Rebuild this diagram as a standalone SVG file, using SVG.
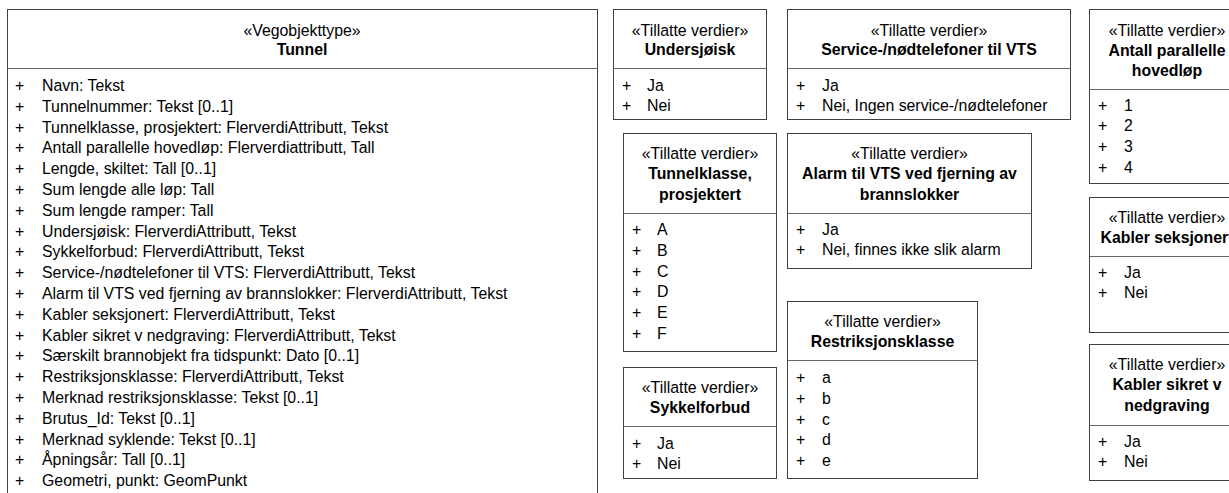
<svg xmlns="http://www.w3.org/2000/svg" width="1229" height="493" viewBox="0 0 1229 493">
<style>
text{font-family:"Liberation Sans",Arial,sans-serif;font-size:15.85px;fill:#000}
.c{text-anchor:middle}
.b{font-weight:bold}
.box{fill:#fff;stroke:#404040;stroke-width:1}
.div{stroke:#6a6a6a;stroke-width:1}
</style>
<rect width="1229" height="493" fill="#fff"/>
<g id="tunnel">
<rect class="box" x="7.5" y="9.5" width="590" height="500"/>
<line class="div" x1="7.5" y1="68.5" x2="597.5" y2="68.5"/>
<text class="c" x="302" y="35.5">«Vegobjekttype»</text>
<text class="c b" x="302" y="55">Tunnel</text>
<text x="15" y="91">+</text><text x="42" y="91">Navn: Tekst</text>
<text x="15" y="111.8">+</text><text x="42" y="111.8">Tunnelnummer: Tekst [0..1]</text>
<text x="15" y="132.6">+</text><text x="42" y="132.6">Tunnelklasse, prosjektert: FlerverdiAttributt, Tekst</text>
<text x="15" y="153.4">+</text><text x="42" y="153.4">Antall parallelle hovedløp: Flerverdiattributt, Tall</text>
<text x="15" y="174.2">+</text><text x="42" y="174.2">Lengde, skiltet: Tall [0..1]</text>
<text x="15" y="195">+</text><text x="42" y="195">Sum lengde alle løp: Tall</text>
<text x="15" y="215.8">+</text><text x="42" y="215.8">Sum lengde ramper: Tall</text>
<text x="15" y="236.6">+</text><text x="42" y="236.6">Undersjøisk: FlerverdiAttributt, Tekst</text>
<text x="15" y="257.4">+</text><text x="42" y="257.4">Sykkelforbud: FlerverdiAttributt, Tekst</text>
<text x="15" y="278.2">+</text><text x="42" y="278.2">Service-/nødtelefoner til VTS: FlerverdiAttributt, Tekst</text>
<text x="15" y="299">+</text><text x="42" y="299">Alarm til VTS ved fjerning av brannslokker: FlerverdiAttributt, Tekst</text>
<text x="15" y="319.8">+</text><text x="42" y="319.8">Kabler seksjonert: FlerverdiAttributt, Tekst</text>
<text x="15" y="340.6">+</text><text x="42" y="340.6">Kabler sikret v nedgraving: FlerverdiAttributt, Tekst</text>
<text x="15" y="361.4">+</text><text x="42" y="361.4">Særskilt brannobjekt fra tidspunkt: Dato [0..1]</text>
<text x="15" y="382.2">+</text><text x="42" y="382.2">Restriksjonsklasse: FlerverdiAttributt, Tekst</text>
<text x="15" y="403">+</text><text x="42" y="403">Merknad restriksjonsklasse: Tekst [0..1]</text>
<text x="15" y="423.8">+</text><text x="42" y="423.8">Brutus_Id: Tekst [0..1]</text>
<text x="15" y="444.6">+</text><text x="42" y="444.6">Merknad syklende: Tekst [0..1]</text>
<text x="15" y="465.4">+</text><text x="42" y="465.4">Åpningsår: Tall [0..1]</text>
<text x="15" y="486.2">+</text><text x="42" y="486.2">Geometri, punkt: GeomPunkt</text>
</g>
<g id="undersjoisk">
<rect class="box" x="613.5" y="9.5" width="153" height="110"/>
<line class="div" x1="613.5" y1="68.5" x2="766.5" y2="68.5"/>
<text class="c" x="690" y="35.5">«Tillatte verdier»</text>
<text class="c b" x="690" y="55">Undersjøisk</text>
<text x="622" y="90.5">+</text><text x="647" y="90.5">Ja</text>
<text x="622" y="111">+</text><text x="647" y="111">Nei</text>
</g>
<g id="service">
<rect class="box" x="787.5" y="9.5" width="283" height="110"/>
<line class="div" x1="787.5" y1="68.5" x2="1070.5" y2="68.5"/>
<text class="c" x="929" y="35.5">«Tillatte verdier»</text>
<text class="c b" x="929" y="55">Service-/nødtelefoner til VTS</text>
<text x="796" y="90.5">+</text><text x="822" y="90.5">Ja</text>
<text x="796" y="111">+</text><text x="822" y="111">Nei, Ingen service-/nødtelefoner</text>
</g>
<g id="antall">
<rect class="box" x="1089.5" y="9.5" width="156" height="174"/>
<line class="div" x1="1089.5" y1="89.5" x2="1245.5" y2="89.5"/>
<text class="c" x="1167" y="35.5">«Tillatte verdier»</text>
<text class="c b" x="1167" y="55.5">Antall parallelle</text>
<text class="c b" x="1167" y="76">hovedløp</text>
<text x="1098" y="110.5">+</text><text x="1124" y="110.5">1</text>
<text x="1098" y="131.3">+</text><text x="1124" y="131.3">2</text>
<text x="1098" y="152.1">+</text><text x="1124" y="152.1">3</text>
<text x="1098" y="172.9">+</text><text x="1124" y="172.9">4</text>
</g>
<g id="tunnelklasse">
<rect class="box" x="623.5" y="133.5" width="153" height="218"/>
<line class="div" x1="623.5" y1="213.5" x2="776.5" y2="213.5"/>
<text class="c" x="700" y="159">«Tillatte verdier»</text>
<text class="c b" x="700" y="179">Tunnelklasse,</text>
<text class="c b" x="700" y="199.5">prosjektert</text>
<text x="632" y="235">+</text><text x="657" y="235">A</text>
<text x="632" y="255.8">+</text><text x="657" y="255.8">B</text>
<text x="632" y="276.6">+</text><text x="657" y="276.6">C</text>
<text x="632" y="297.4">+</text><text x="657" y="297.4">D</text>
<text x="632" y="318.2">+</text><text x="657" y="318.2">E</text>
<text x="632" y="339">+</text><text x="657" y="339">F</text>
</g>
<g id="alarm">
<rect class="box" x="787.5" y="133.5" width="244" height="135"/>
<line class="div" x1="787.5" y1="213.5" x2="1031.5" y2="213.5"/>
<text class="c" x="909.5" y="159">«Tillatte verdier»</text>
<text class="c b" x="909.5" y="179">Alarm til VTS ved fjerning av</text>
<text class="c b" x="909.5" y="199.5">brannslokker</text>
<text x="796" y="234.5">+</text><text x="822" y="234.5">Ja</text>
<text x="796" y="255.3">+</text><text x="822" y="255.3">Nei, finnes ikke slik alarm</text>
</g>
<g id="sykkelforbud">
<rect class="box" x="623.5" y="367.5" width="153" height="111"/>
<line class="div" x1="623.5" y1="426.5" x2="776.5" y2="426.5"/>
<text class="c" x="700" y="393">«Tillatte verdier»</text>
<text class="c b" x="700" y="413">Sykkelforbud</text>
<text x="632" y="448.5">+</text><text x="657" y="448.5">Ja</text>
<text x="632" y="469.3">+</text><text x="657" y="469.3">Nei</text>
</g>
<g id="restriksjonsklasse">
<rect class="box" x="787.5" y="301.5" width="190" height="177"/>
<line class="div" x1="787.5" y1="360.5" x2="977.5" y2="360.5"/>
<text class="c" x="882.5" y="327">«Tillatte verdier»</text>
<text class="c b" x="882.5" y="347">Restriksjonsklasse</text>
<text x="796" y="383">+</text><text x="822" y="383">a</text>
<text x="796" y="403.8">+</text><text x="822" y="403.8">b</text>
<text x="796" y="424.6">+</text><text x="822" y="424.6">c</text>
<text x="796" y="445.4">+</text><text x="822" y="445.4">d</text>
<text x="796" y="466.2">+</text><text x="822" y="466.2">e</text>
</g>
<g id="kabler_seksjonert">
<rect class="box" x="1089.5" y="197.5" width="156" height="135"/>
<line class="div" x1="1089.5" y1="256.5" x2="1245.5" y2="256.5"/>
<text class="c" x="1167" y="223">«Tillatte verdier»</text>
<text class="c b" x="1167" y="243">Kabler seksjonert</text>
<text x="1098" y="277.5">+</text><text x="1124" y="277.5">Ja</text>
<text x="1098" y="298.3">+</text><text x="1124" y="298.3">Nei</text>
</g>
<g id="kabler_sikret">
<rect class="box" x="1089.5" y="344.5" width="156" height="136"/>
<line class="div" x1="1089.5" y1="425.5" x2="1245.5" y2="425.5"/>
<text class="c" x="1167" y="370">«Tillatte verdier»</text>
<text class="c b" x="1167" y="390">Kabler sikret v</text>
<text class="c b" x="1167" y="410.5">nedgraving</text>
<text x="1098" y="446.5">+</text><text x="1124" y="446.5">Ja</text>
<text x="1098" y="467.3">+</text><text x="1124" y="467.3">Nei</text>
</g>
<g id="connectors"></g>
</svg>
